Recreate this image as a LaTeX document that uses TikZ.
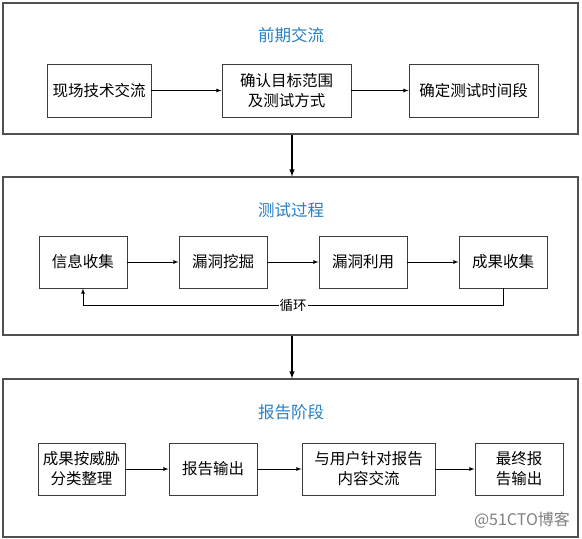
\documentclass[tikz,border=0pt]{standalone}
\usepackage{fontspec}
\newfontfamily\cjk{Noto Sans CJK SC}
\definecolor{titleblue}{RGB}{38,128,196}
\definecolor{framegray}{RGB}{80,80,80}
\definecolor{boxgray}{RGB}{60,60,60}
\begin{document}
\begin{tikzpicture}[x=1pt,y=-1pt,>=latex,
    stage/.style={draw=framegray,line width=1.2pt,fill=white,inner sep=0pt},
    main box/.style={draw=boxgray,line width=0.9pt,fill=white,minimum height=52pt,inner sep=0pt,align=center,font=\cjk\fontsize{15.5}{20}\selectfont},
    stage title/.style={text=titleblue,font=\cjk\fontsize{16.5}{18}\selectfont}]

  \useasboundingbox (0,0) rectangle (582,539);

  % stages
  \node[stage,minimum width=575pt,minimum height=131pt] at (290.5,68.5) (s1) {};
  \node[stage,minimum width=575pt,minimum height=158pt] at (290.5,256) (s2) {};
  \node[stage,minimum width=575pt,minimum height=158pt] at (290.5,458) (s3) {};

  \node[stage title] at (291,35) (t1) {前期交流};
  \node[stage title] at (291,210) (t2) {测试过程};
  \node[stage title] at (291,412) (t3) {报告阶段};

  % 前期交流
  \node[main box,minimum width=104pt,minimum height=53pt] at (99,90.5) (a1) {现场技术交流};
  \node[main box,minimum width=129pt,minimum height=53pt] at (286.5,90.5) (a2) {确认目标范围\\及测试方式};
  \node[main box,minimum width=129pt,minimum height=53pt] at (473.5,90.5) (a3) {确定测试时间段};

  % 测试过程
  \node[main box,minimum width=88pt] at (83,262) (b1) {信息收集};
  \node[main box,minimum width=88pt] at (223,262) (b2) {漏洞挖掘};
  \node[main box,minimum width=88pt] at (363,262) (b3) {漏洞利用};
  \node[main box,minimum width=88pt] at (503,262) (b4) {成果收集};

  % 报告阶段
  \node[main box,minimum width=87pt] at (81.5,469) (c1) {成果按威胁\\分类整理};
  \node[main box,minimum width=88pt] at (213,469) (c2) {报告输出};
  \node[main box,minimum width=133pt] at (368.5,469) (c3) {与用户针对报告\\内容交流};
  \node[main box,minimum width=88pt] at (519,469) (c4) {最终报\\告输出};

  \node[text=gray,font=\cjk\fontsize{16}{18}\selectfont] at (522,520) (mark) {@51CTO博客};

  \path[->,line width=0.8pt]
  (a1) edge (a2)
  (a2) edge (a3)
  (b1) edge (b2)
  (b2) edge (b3)
  (b3) edge (b4)
  (c1) edge (c2)
  (c2) edge (c3)
  (c3) edge (c4);

  \path[->,line width=1.4pt]
  (s1.south -| 292,0) edge (s2.north -| 292,0)
  (s2.south -| 292,0) edge (s3.north -| 292,0);

  % loop back
  \coordinate (loopR) at (503,305);
  \coordinate (loopL) at (83,305);
  \draw[->,line width=0.8pt] (b4.south) -- (loopR) -- node[fill=white,inner sep=1pt,font=\cjk\fontsize{13.5}{15}\selectfont] {循环} (loopL) -- (b1.south);
\end{tikzpicture}
\end{document}
